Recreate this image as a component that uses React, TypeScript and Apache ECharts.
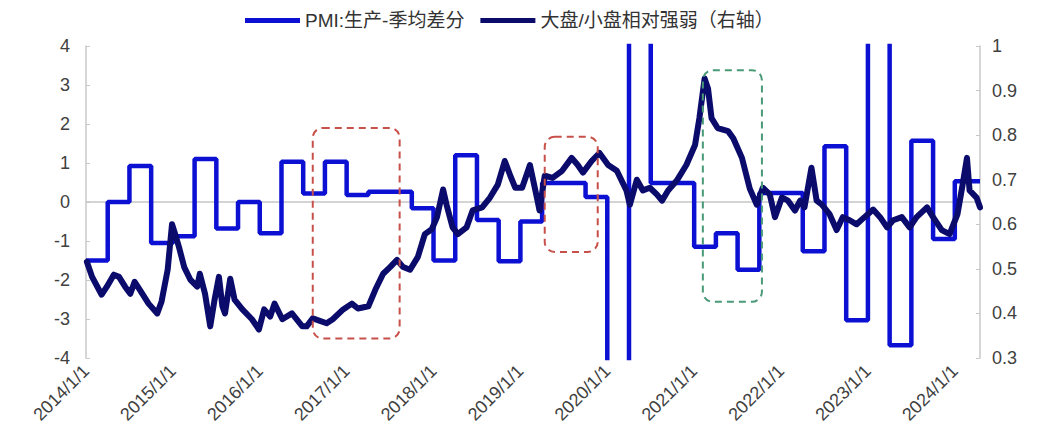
import React, { useEffect, useRef } from 'react';
import * as echarts from 'echarts';

// PMI 生产 季均差分 (left axis), step changes at each date (decimal years)
const pmiDates = [2014.0, 2014.25, 2014.5, 2014.75, 2015.0, 2015.25, 2015.5, 2015.75, 2016.0, 2016.25, 2016.5, 2016.75, 2017.0, 2017.25, 2017.75, 2018.0, 2018.25, 2018.5, 2018.75, 2019.0, 2019.25, 2019.75, 2020.0, 2020.25, 2020.5, 2021.0, 2021.25, 2021.5, 2021.75, 2022.25, 2022.5, 2022.75, 2023.0, 2023.25, 2023.5, 2023.75, 2024.0, 2024.29];
const pmiValues = [-1.5, 0, 0.92, -1.05, -0.88, 1.1, -0.68, 0, -0.8, 1.03, 0.22, 1.03, 0.18, 0.26, -0.16, -1.5, 1.2, -0.46, -1.52, -0.5, 0.49, 0.13, -30, 30, 0.49, -1.15, -0.8, -1.74, 0.23, -1.26, 1.43, -3.03, 30, -3.67, 1.57, -0.95, 0.53, 0.53];

// 大盘/小盘相对强弱 (right axis)
const strengthDates = [2014.01, 2014.07, 2014.18, 2014.24, 2014.32, 2014.38, 2014.45, 2014.51, 2014.56, 2014.62, 2014.72, 2014.82, 2014.87, 2014.94, 2014.99, 2015.02, 2015.07, 2015.13, 2015.2, 2015.28, 2015.31, 2015.37, 2015.43, 2015.48, 2015.53, 2015.57, 2015.6, 2015.66, 2015.71, 2015.8, 2015.91, 2015.99, 2016.05, 2016.12, 2016.17, 2016.26, 2016.37, 2016.49, 2016.54, 2016.61, 2016.77, 2016.84, 2016.96, 2017.06, 2017.13, 2017.25, 2017.33, 2017.42, 2017.5, 2017.58, 2017.65, 2017.73, 2017.82, 2017.9, 2017.98, 2018.04, 2018.11, 2018.15, 2018.22, 2018.28, 2018.38, 2018.45, 2018.56, 2018.65, 2018.74, 2018.82, 2018.88, 2018.94, 2019.02, 2019.11, 2019.19, 2019.22, 2019.28, 2019.37, 2019.48, 2019.59, 2019.66, 2019.72, 2019.82, 2019.91, 2020.01, 2020.11, 2020.22, 2020.26, 2020.34, 2020.41, 2020.49, 2020.57, 2020.63, 2020.7, 2020.8, 2020.91, 2021.01, 2021.06, 2021.12, 2021.16, 2021.2, 2021.27, 2021.39, 2021.45, 2021.55, 2021.64, 2021.72, 2021.79, 2021.87, 2021.93, 2022.01, 2022.08, 2022.16, 2022.22, 2022.27, 2022.35, 2022.41, 2022.47, 2022.56, 2022.64, 2022.71, 2022.79, 2022.87, 2022.96, 2023.06, 2023.14, 2023.22, 2023.29, 2023.39, 2023.48, 2023.56, 2023.68, 2023.75, 2023.85, 2023.94, 2024.03, 2024.09, 2024.14, 2024.17, 2024.25, 2024.29];
const strengthValues = [0.516, 0.482, 0.442, 0.46, 0.487, 0.482, 0.46, 0.444, 0.471, 0.453, 0.422, 0.4, 0.427, 0.498, 0.6, 0.582, 0.549, 0.504, 0.476, 0.46, 0.489, 0.444, 0.371, 0.431, 0.482, 0.416, 0.4, 0.478, 0.431, 0.409, 0.387, 0.364, 0.409, 0.393, 0.422, 0.387, 0.4, 0.371, 0.371, 0.389, 0.378, 0.387, 0.409, 0.422, 0.411, 0.416, 0.453, 0.489, 0.504, 0.52, 0.504, 0.498, 0.527, 0.578, 0.589, 0.616, 0.678, 0.644, 0.593, 0.578, 0.593, 0.631, 0.638, 0.66, 0.689, 0.742, 0.711, 0.682, 0.682, 0.733, 0.66, 0.631, 0.709, 0.704, 0.72, 0.749, 0.733, 0.716, 0.742, 0.76, 0.733, 0.72, 0.676, 0.644, 0.7, 0.676, 0.682, 0.667, 0.653, 0.676, 0.698, 0.733, 0.778, 0.838, 0.927, 0.904, 0.838, 0.816, 0.809, 0.793, 0.749, 0.68, 0.644, 0.682, 0.667, 0.616, 0.66, 0.653, 0.631, 0.653, 0.638, 0.727, 0.653, 0.644, 0.622, 0.587, 0.616, 0.609, 0.6, 0.616, 0.633, 0.616, 0.593, 0.609, 0.616, 0.593, 0.616, 0.638, 0.616, 0.587, 0.578, 0.622, 0.689, 0.749, 0.676, 0.66, 0.638];

const xMin = 2014;
const xMax = 2024.29;
const leftTicks = { min: -4, max: 4, interval: 1 };
const rightTicks = { min: 0.3, max: 1, interval: 0.1 };

const seriesNames = ['PMI:生产-季均差分', '大盘/小盘相对强弱（右轴）'];

// Dashed highlight boxes: [x0, x1, yTop, yBottom] in left-axis data units
const boxRanges = [
  [2016.61, 2017.61, 1.9, -3.5],
  [2019.28, 2019.89, 1.67, -1.28],
  [2021.1, 2021.78, 3.38, -2.56],
];
const boxColors = ['#c8504a', '#c8504a', '#4a9a78'];

const FONT = "'Liberation Sans', 'Noto Sans CJK SC', sans-serif";

export default function App() {
  const ref = useRef<HTMLDivElement>(null);
  useEffect(() => {
    document.body.style.margin = '0';
    const chart = echarts.init(ref.current!, null, { renderer: 'svg' });
    const pmiData = pmiDates.map((d, i) => [d, pmiValues[i]]);
    const strengthData = strengthDates.map((d, i) => [d, strengthValues[i]]);
    chart.setOption({
      animation: false,
      textStyle: { fontFamily: FONT },
      legend: {
        top: 6,
        left: 240,
        itemWidth: 55,
        itemHeight: 5,
        itemGap: 16,
        icon: 'rect',
        textStyle: { fontSize: 19, color: '#333', fontFamily: FONT },
        data: seriesNames,
      },
      grid: { left: 86, right: 61, top: 46, bottom: 86 },
      xAxis: {
        type: 'value',
        min: xMin,
        max: xMax,
        interval: 1,
        axisLine: { show: false },
        axisTick: { show: false },
        splitLine: { show: false },
        axisLabel: {
          rotate: 45,
          margin: 10,
          fontSize: 18,
          color: '#404040',
          fontFamily: FONT,
          showMaxLabel: false,
          formatter: (v: number) => (Number.isInteger(v) ? `${v}/1/1` : ''),
        },
      },
      yAxis: [
        {
          type: 'value',
          ...leftTicks,
          axisLine: { show: true, lineStyle: { color: '#c8c8c8', width: 1.5 } },
          axisTick: { show: true, inside: true, length: 4, lineStyle: { color: '#c8c8c8' } },
          splitLine: { show: false },
          axisLabel: { fontSize: 18, color: '#404040', margin: 16, fontFamily: FONT },
        },
        {
          type: 'value',
          ...rightTicks,
          position: 'right',
          axisLine: { show: true, lineStyle: { color: '#c8c8c8', width: 1.5 } },
          axisTick: { show: true, inside: true, length: 4, lineStyle: { color: '#c8c8c8' } },
          splitLine: { show: false },
          axisLabel: {
            fontSize: 18,
            color: '#404040',
            margin: 12,
            fontFamily: FONT,
            formatter: (v: number) => String(+v.toFixed(1)),
          },
        },
      ],
      series: [
        {
          name: seriesNames[0],
          type: 'line',
          yAxisIndex: 0,
          step: 'end',
          showSymbol: false,
          symbol: 'none',
          clip: true,
          data: pmiData,
          itemStyle: { color: '#0c10d2' },
          lineStyle: { color: '#0c10d2', width: 4.5 },
          z: 2,
          markLine: {
            silent: true,
            z: 1,
            symbol: 'none',
            label: { show: false },
            lineStyle: { color: '#c6c6c6', width: 1.5, type: 'solid' },
            data: [{ yAxis: 0 }],
          },
        },
        {
          name: seriesNames[1],
          type: 'line',
          yAxisIndex: 1,
          showSymbol: false,
          symbol: 'none',
          data: strengthData,
          itemStyle: { color: '#0b0b6c' },
          lineStyle: { color: '#0b0b6c', width: 6, join: 'round', cap: 'round' },
          z: 3,
        },
      ],
    });
    const graphic = boxRanges.map((b, i) => {
      const p0 = chart.convertToPixel({ xAxisIndex: 0, yAxisIndex: 0 }, [b[0], b[2]]) as number[];
      const p1 = chart.convertToPixel({ xAxisIndex: 0, yAxisIndex: 0 }, [b[1], b[3]]) as number[];
      return {
        type: 'rect',
        silent: true,
        z: 10,
        shape: { x: p0[0], y: p0[1], width: p1[0] - p0[0], height: p1[1] - p0[1], r: 10 },
        style: { fill: 'none', stroke: boxColors[i], lineWidth: 2, lineDash: [7, 5] },
      };
    });
    chart.setOption({ graphic });
    return () => chart.dispose();
  }, []);
  return <div ref={ref} style={{ width: 1041, height: 444 }} />;
}
